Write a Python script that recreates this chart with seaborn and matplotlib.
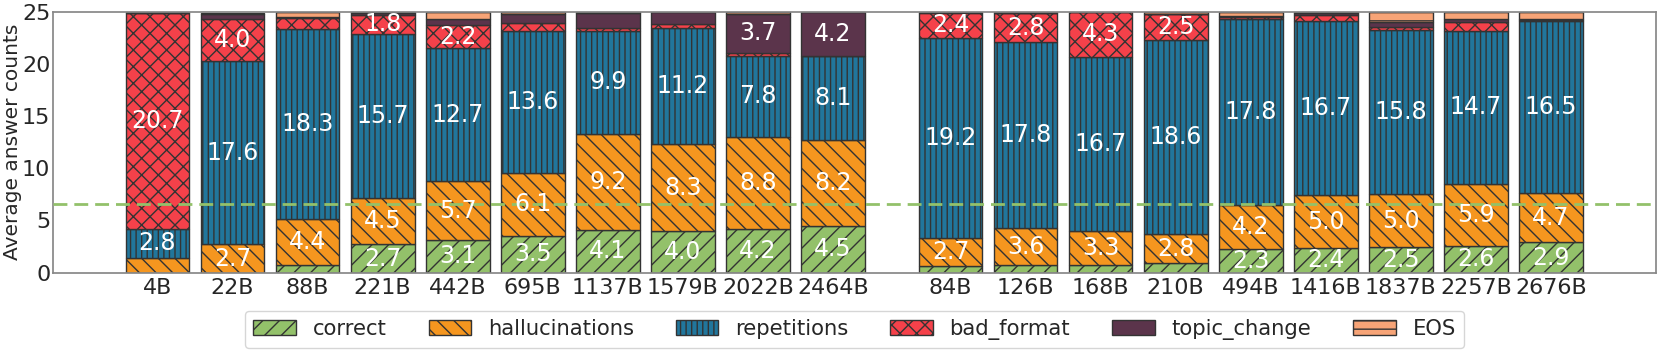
import numpy as np
import seaborn as sns
import matplotlib
matplotlib.use('Agg')
import matplotlib.pyplot as plt

# model sizes, two groups of runs
group_a = ['4B', '22B', '88B', '221B', '442B', '695B', '1137B', '1579B', '2022B', '2464B']
group_b = ['84B', '126B', '168B', '210B', '494B', '1416B', '1837B', '2257B', '2676B']

# average answer counts per category
correct = [0.0, 0.0, 0.7, 2.7, 3.1, 3.5, 4.1, 4.0, 4.2, 4.5,
           0.6, 0.7, 0.7, 0.9, 2.3, 2.4, 2.5, 2.6, 2.9]
hallucinations = [1.4, 2.7, 4.4, 4.5, 5.7, 6.1, 9.2, 8.3, 8.8, 8.2,
                  2.7, 3.6, 3.3, 2.8, 4.2, 5.0, 5.0, 5.9, 4.7]
repetitions = [2.8, 17.6, 18.3, 15.7, 12.7, 13.6, 9.9, 11.2, 7.8, 8.1,
               19.2, 17.8, 16.7, 18.6, 17.8, 16.7, 15.8, 14.7, 16.5]
bad_format = [20.7, 4.0, 1.0, 1.8, 2.2, 0.7, 0.3, 0.3, 0.3, 0.0,
              2.4, 2.8, 4.3, 2.5, 0.2, 0.6, 0.3, 0.8, 0.15]
topic_change = [0.0, 0.5, 0.1, 0.2, 0.6, 0.9, 1.4, 1.2, 3.7, 4.2,
                0.05, 0.0, 0.0, 0.0, 0.1, 0.2, 0.4, 0.3, 0.1]
eos = [0.1, 0.1, 0.5, 0.1, 0.7, 0.2, 0.1, 0.0, 0.2, 0.0,
       0.05, 0.1, 0.0, 0.2, 0.4, 0.1, 1.0, 0.7, 0.65]

baseline = 6.6

series = [
    ('correct', correct, '#93c16a', '//'),
    ('hallucinations', hallucinations, '#f5961f', '\\\\'),
    ('repetitions', repetitions, '#21769c', '|||'),
    ('bad_format', bad_format, '#f5414a', 'xx'),
    ('topic_change', topic_change, '#5b344b', ''),
    ('EOS', eos, '#f7a477', '--'),
]

sns.set_theme(style="white")
plt.rcParams['font.family'] = ['DejaVu Sans']
plt.rcParams['hatch.linewidth'] = 1.0

fig, ax = plt.subplots(figsize=(16.61, 3.5), dpi=100)
fig.subplots_adjust(left=0.032, right=0.997, top=0.966, bottom=0.221)

labels = group_a + group_b
gap = 1.565
x = np.concatenate([np.arange(len(group_a)),
                    np.arange(len(group_b)) + len(group_a) - 1 + gap])

bottom = np.zeros(len(labels))
for name, vals, color, hatch in series:
    vals = np.array(vals)
    ax.bar(x, vals, 0.85, bottom=bottom, color=color, edgecolor='#333333',
           linewidth=1.0, hatch=hatch, label=name, zorder=2)
    for xi, b, v in zip(x, bottom, vals):
        if v >= 1.5:
            ax.text(xi, b + v / 2, f"{v:.1f}", ha='center', va='center',
                    color='white', fontsize=17, zorder=4)
    bottom += vals

ax.axhline(baseline, color='#93c16a', linestyle=(0, (5, 2.5)), linewidth=2, zorder=3)

ax.set_xticks(x)
ax.set_xticklabels(labels)
ax.set_xlim(-1.39, x[-1] + 1.4)
ax.set_ylim(0, 25)
ax.set_yticks([0, 5, 10, 15, 20, 25])
ax.set_ylabel("Average answer counts", fontsize=14.5)
ax.yaxis.set_label_coords(-0.0195, 0.5)
ax.tick_params(axis='both', labelsize=16, length=0)
ax.tick_params(axis='y', pad=2)
for s in ax.spines.values():
    s.set_color('#888888')

ax.legend(loc='upper center', bbox_to_anchor=(0.5, -0.105), ncol=6, fontsize=15.2)

fig.savefig('out.png', dpi=100)
plt.close(fig)
